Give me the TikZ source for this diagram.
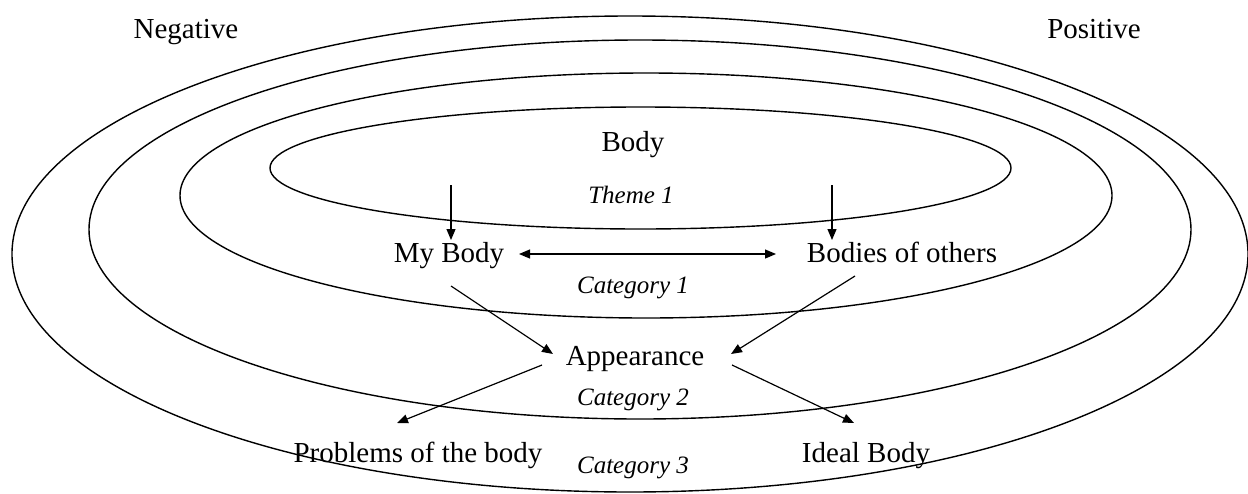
\documentclass[tikz,border=0pt]{standalone}
\usepackage{fontspec}
\setmainfont{Liberation Serif}
\usetikzlibrary{arrows.meta}
\tikzset{
  ring/.style={line width=1.4pt, black},
  arr/.style={line width=1.2pt, -{Triangle[length=11pt,width=9pt]}},
  darr/.style={line width=1.2pt, {Triangle[length=11pt,width=9pt]}-{Triangle[length=11pt,width=9pt]}},
  lab/.style={font=\fontsize{29}{34}\selectfont, inner sep=0pt, anchor=base},
  ital/.style={font=\fontsize{25}{30}\selectfont\itshape, inner sep=0pt, anchor=base},
}
\begin{document}
\begin{tikzpicture}[x=1pt,y=-1pt]
\useasboundingbox[fill=white] (0,0) rectangle (1248,493);
% rings
\draw[ring] (640.5,168) ellipse [x radius=370.5, y radius=61];
\draw[ring] (646,195.5) ellipse [x radius=466, y radius=122.5];
\draw[ring] (640,229.5) ellipse [x radius=551, y radius=189.5];
\draw[ring] (630,254) ellipse [x radius=618, y radius=238];
% texts (positioned at baselines)
\node[lab] (neg) at (186,38) {Negative};
\node[lab] (pos) at (1094,38) {Positive};
\node[lab] (body) at (633,151) {Body};
\node[ital] (theme) at (631,203) {Theme 1};
\node[lab] (mybody) at (449,262) {My Body};
\node[lab] (others) at (902,262) {Bodies of others};
\node[ital] (cat1) at (633,293) {Category 1};
\node[lab] (appear) at (635,365) {Appearance};
\node[ital] (cat2) at (633,405) {Category 2};
\node[lab] (problems) at (418,462) {Problems of the body};
\node[lab] (ideal) at (866,462) {Ideal Body};
\node[ital] (cat3) at (633,473) {Category 3};
% connector endpoints
\coordinate (d1s) at (451,185);
\coordinate (d1e) at (451,240);
\coordinate (d2s) at (832,185);
\coordinate (d2e) at (832,240);
\coordinate (hL) at (519,254);
\coordinate (hR) at (776,254);
\coordinate (m1s) at (451,286);
\coordinate (m1e) at (553,354);
\coordinate (o1s) at (855,276);
\coordinate (o1e) at (731,354);
\coordinate (p1s) at (542,365);
\coordinate (p1e) at (397,423);
\coordinate (i1s) at (732,365);
\coordinate (i1e) at (854,423);
% connectors
\draw[arr] (d1s) -- (d1e);
\draw[arr] (d2s) -- (d2e);
\draw[darr] (hL) -- (hR);
\draw[arr] (m1s) -- (m1e);
\draw[arr] (o1s) -- (o1e);
\draw[arr] (p1s) -- (p1e);
\draw[arr] (i1s) -- (i1e);
\end{tikzpicture}
\end{document}
